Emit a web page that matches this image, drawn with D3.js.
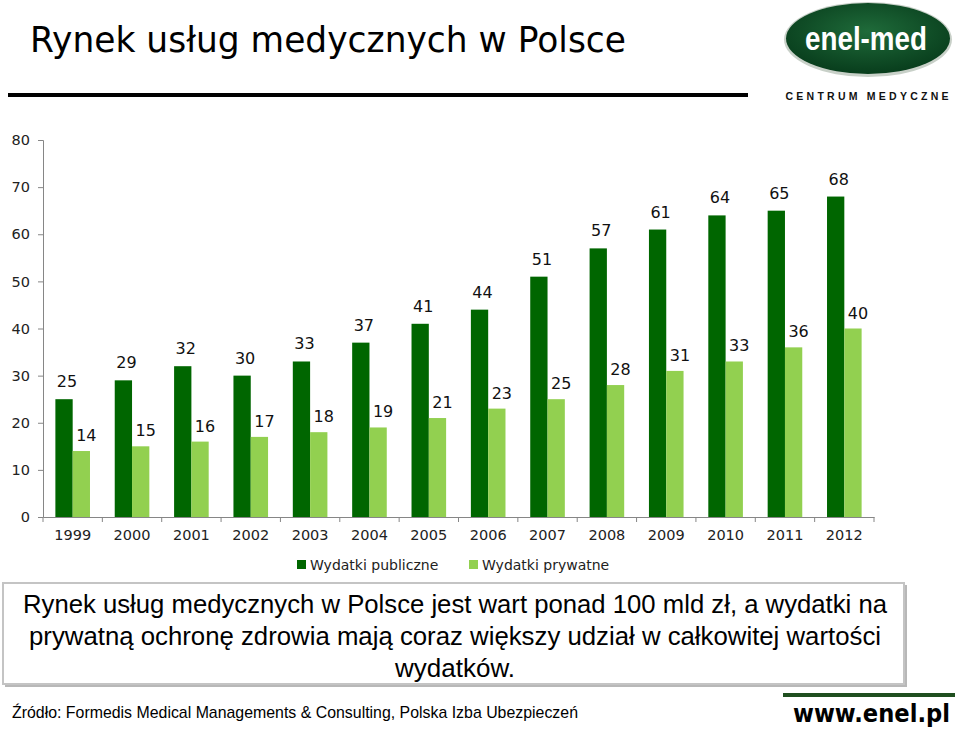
<!DOCTYPE html>
<html>
<head>
<meta charset="utf-8">
<script src="https://cdn.jsdelivr.net/npm/d3@7"></script>
<style>
  body { margin: 0; background: #fff; }
</style>
</head>
<body>
<div id="chart"></div>
<script>
const years = ["1999","2000","2001","2002","2003","2004","2005","2006","2007","2008","2009","2010","2011","2012"];
const publicSpend = [25, 29, 32, 30, 33, 37, 41, 44, 51, 57, 61, 64, 65, 68];
const privateSpend = [14, 15, 16, 17, 18, 19, 21, 23, 25, 28, 31, 33, 36, 40];
const seriesNames = ["Wydatki publiczne", "Wydatki prywatne"];
const yTicks = [0, 10, 20, 30, 40, 50, 60, 70, 80];
const titleText = "Rynek usług medycznych w Polsce";
const boxLines = [
  "Rynek usług medycznych w Polsce jest wart ponad 100 mld zł, a wydatki na",
  "prywatną ochronę zdrowia mają coraz większy udział w całkowitej wartości",
  "wydatków."
];
const boxLineWidths = [864, 852, 120];
const sourceText = "Źródło: Formedis Medical  Managements & Consulting, Polska Izba Ubezpieczeń";

const width = 960, height = 729;
const colors = ["#006600", "#92d050"];
const sans = "DejaVu Sans, Verdana, sans-serif";
const arial = "Liberation Sans, Arial, sans-serif";

const svg = d3.select("#chart").append("svg")
    .attr("width", width)
    .attr("height", height)
    .attr("font-family", sans);

// title + rule
svg.append("text")
    .attr("x", 30).attr("y", 52)
    .attr("font-size", 35)
    .attr("textLength", 596)
    .attr("lengthAdjust", "spacingAndGlyphs")
    .attr("fill", "#000")
    .text(titleText);
svg.append("rect")
    .attr("x", 8).attr("y", 93).attr("width", 740).attr("height", 4)
    .attr("fill", "#000");

// logo
const defs = svg.append("defs");
const grad = defs.append("radialGradient").attr("id", "logoGrad")
    .attr("cx", "50%").attr("cy", "40%").attr("r", "60%");
grad.append("stop").attr("offset", "0%").attr("stop-color", "#1f6b3a");
grad.append("stop").attr("offset", "100%").attr("stop-color", "#083d1c");

svg.append("ellipse")
    .attr("cx", 868).attr("cy", 39.5).attr("rx", 84).attr("ry", 37.5)
    .attr("fill", "#c8d0c8");
svg.append("ellipse")
    .attr("cx", 868).attr("cy", 38.5).attr("rx", 82).attr("ry", 35.5)
    .attr("fill", "url(#logoGrad)");
svg.append("text")
    .attr("x", 866).attr("y", 50)
    .attr("text-anchor", "middle")
    .attr("font-size", 33).attr("font-weight", "bold")
    .attr("font-family", arial)
    .attr("textLength", 122)
    .attr("lengthAdjust", "spacingAndGlyphs")
    .attr("fill", "#fff")
    .text("enel-med");
svg.append("text")
    .attr("x", 867).attr("y", 100)
    .attr("text-anchor", "middle")
    .attr("font-size", 10.5).attr("font-weight", "bold")
    .attr("font-family", arial)
    .attr("textLength", 163)
    .attr("lengthAdjust", "spacing")
    .attr("fill", "#111")
    .text("CENTRUM MEDYCZNE");

// chart area
const margin = { left: 43, top: 140, right: 874, bottom: 517 };

const x0 = d3.scaleBand()
    .domain(years)
    .range([margin.left, margin.right])
    .paddingInner(0).paddingOuter(0);
const barW = 17.3;
const x1 = d3.scaleBand()
    .domain([0, 1])
    .range([(x0.bandwidth() - 2 * barW) / 2, (x0.bandwidth() + 2 * barW) / 2])
    .padding(0);
const y = d3.scaleLinear()
    .domain([0, 80])
    .range([margin.bottom, margin.top]);

// y axis
const yAxis = svg.append("g")
    .attr("transform", `translate(${margin.left},0)`)
    .call(d3.axisLeft(y).tickValues(yTicks).tickSize(5).tickPadding(8));
yAxis.attr("font-family", sans);
yAxis.select(".domain").attr("stroke", "#868686");
yAxis.selectAll(".tick line").attr("stroke", "#868686");
yAxis.selectAll(".tick text")
    .attr("font-size", 14.5).attr("fill", "#222");

// x axis
const xAxis = svg.append("g")
    .attr("transform", `translate(0,${margin.bottom})`)
    .call(d3.axisBottom(x0).tickSize(0).tickPadding(13));
xAxis.attr("font-family", sans);
xAxis.select(".domain").attr("stroke", "#868686");
xAxis.selectAll(".tick text")
    .attr("font-size", 14.5).attr("fill", "#222");
svg.append("g").selectAll("line")
    .data(d3.range(years.length + 1))
    .join("line")
    .attr("x1", i => margin.left + i * x0.step())
    .attr("x2", i => margin.left + i * x0.step())
    .attr("y1", margin.bottom)
    .attr("y2", margin.bottom + 5)
    .attr("stroke", "#868686");

// bars
const rows = years.map((yr, i) => ({ year: yr, vals: [publicSpend[i], privateSpend[i]] }));
const groups = svg.append("g").selectAll("g")
    .data(rows)
    .join("g")
    .attr("transform", d => `translate(${x0(d.year)},0)`);

groups.selectAll("rect")
    .data(d => d.vals.map((v, k) => ({ v, k })))
    .join("rect")
    .attr("x", d => x1(d.k))
    .attr("y", d => y(d.v))
    .attr("width", x1.bandwidth())
    .attr("height", d => y(0) - y(d.v))
    .attr("fill", d => colors[d.k]);

groups.selectAll("text")
    .data(d => d.vals.map((v, k) => ({ v, k })))
    .join("text")
    .attr("x", d => x1(d.k) + x1.bandwidth() / 2 + (d.k === 0 ? 3 : 5))
    .attr("y", d => y(d.v) - (d.k === 0 ? 12 : 10))
    .attr("text-anchor", "middle")
    .attr("font-size", 16)
    .attr("fill", "#111")
    .text(d => d.v);

// legend
const legend = svg.append("g").attr("transform", "translate(297,570)");
const legX = [0, 172];
seriesNames.forEach((name, k) => {
  legend.append("rect")
      .attr("x", legX[k]).attr("y", -10)
      .attr("width", 9).attr("height", 9)
      .attr("fill", colors[k]);
  legend.append("text")
      .attr("x", legX[k] + 13).attr("y", 0)
      .attr("font-size", 14).attr("fill", "#222")
      .text(name);
});

// text box
svg.append("rect")
    .attr("x", 5).attr("y", 585).attr("width", 902).attr("height", 102)
    .attr("fill", "#9a9a9a").attr("opacity", 0.7);
svg.append("rect")
    .attr("x", 3).attr("y", 583).attr("width", 901).attr("height", 101)
    .attr("fill", "#fff")
    .attr("stroke", "#c4c4c4").attr("stroke-width", 2);
svg.append("g").selectAll("text")
    .data(boxLines)
    .join("text")
    .attr("x", 455)
    .attr("y", (d, i) => 613 + i * 32)
    .attr("text-anchor", "middle")
    .attr("font-family", arial)
    .attr("font-size", 26)
    .attr("textLength", (d, i) => boxLineWidths[i])
    .attr("lengthAdjust", "spacingAndGlyphs")
    .attr("fill", "#000")
    .text(d => d);

// footer
svg.append("text")
    .attr("x", 12).attr("y", 718)
    .attr("font-family", arial)
    .attr("font-size", 17)
    .attr("textLength", 566)
    .attr("lengthAdjust", "spacingAndGlyphs")
    .attr("fill", "#000")
    .text(sourceText);
svg.append("rect")
    .attr("x", 783).attr("y", 693).attr("width", 172).attr("height", 4)
    .attr("fill", "#1f4f1f");
svg.append("text")
    .attr("x", 793).attr("y", 722)
    .attr("font-family", sans)
    .attr("font-size", 25).attr("font-weight", "bold")
    .attr("textLength", 157)
    .attr("lengthAdjust", "spacingAndGlyphs")
    .attr("fill", "#000")
    .text("www.enel.pl");
</script>
</body>
</html>
